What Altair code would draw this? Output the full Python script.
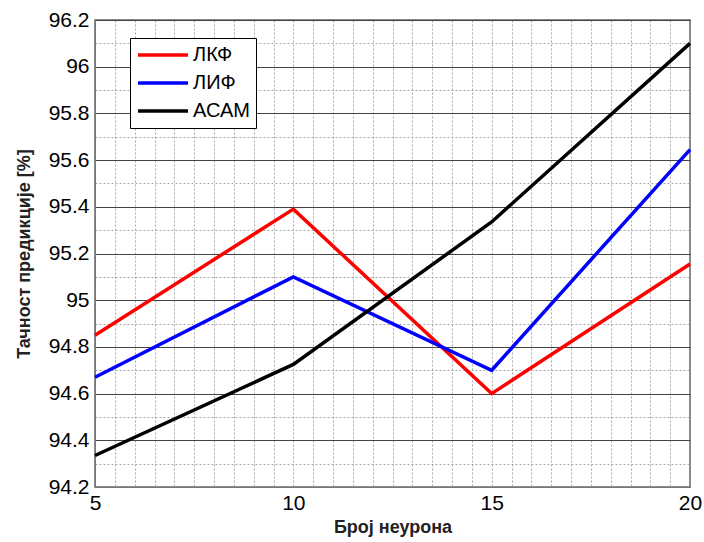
import altair as alt
import pandas as pd

neurons = [5, 10, 15, 20]
lkf = [94.85, 95.39, 94.60, 95.155]
lif = [94.67, 95.10, 94.70, 95.645]
asam = [94.335, 94.725, 95.335, 96.10]
series_names = ["ЛКФ", "ЛИФ", "АСАМ"]
series_colors = ["#ff0000", "#0000ff", "#000000"]

x_ticks = [5, 10, 15, 20]
y_ticks = [94.2, 94.4, 94.6, 94.8, 95.0, 95.2, 95.4, 95.6, 95.8, 96.0, 96.2]
x_minor = [5 + 0.5 * i for i in range(1, 30)]
y_minor = [round(94.2 + 0.1 * i, 1) for i in range(1, 20)]

rows = []
for name, vals in zip(series_names, [lkf, lif, asam]):
    for n, v in zip(neurons, vals):
        rows.append({"n": n, "acc": v, "series": name})
df = pd.DataFrame(rows)

FONT = "Liberation Sans"
xscale = alt.Scale(domain=[5, 20], nice=False, zero=False)
yscale = alt.Scale(domain=[94.2, 96.2], nice=False, zero=False)

minor = alt.Chart(df).mark_line(opacity=0).encode(
    x=alt.X("n:Q", scale=xscale, axis=alt.Axis(
        orient="bottom", values=x_minor, grid=True, gridColor="#a8a8a8",
        gridDash=[2, 2], gridWidth=1, labels=False, ticks=False, domain=False, title=None)),
    y=alt.Y("acc:Q", scale=yscale, axis=alt.Axis(
        orient="left", values=y_minor, grid=True, gridColor="#a8a8a8",
        gridDash=[2, 2], gridWidth=1, labels=False, ticks=False, domain=False, title=None)),
    detail="series:N",
)

lines = alt.Chart(df).mark_line(strokeWidth=3.5).encode(
    x=alt.X("n:Q", scale=xscale, axis=alt.Axis(
        orient="bottom", values=x_ticks, grid=False, format="d", ticks=False,
        labelFlush=False, domainColor="#777777", labelFontSize=21, labelFont=FONT,
        labelColor="#000", labelPadding=5, title="Број неурона", titleFont=FONT,
        titleFontSize=18, titleFontWeight="bold", titleColor="#222", titlePadding=5)),
    y=alt.Y("acc:Q", scale=yscale, axis=alt.Axis(
        orient="left", values=y_ticks, grid=True, gridColor="#444444", gridWidth=1,
        format=".4~g", ticks=False, labelFlush=False, domainColor="#777777",
        labelFontSize=21, labelFont=FONT, labelColor="#000", labelPadding=6,
        title="Тачност предикције [%]", titleFont=FONT, titleFontSize=18,
        titleFontWeight="bold", titleColor="#222", titlePadding=15)),
    color=alt.Color("series:N", sort=series_names,
                    scale=alt.Scale(domain=series_names, range=series_colors),
                    legend=alt.Legend(
                        title=None, orient="none", legendX=35, legendY=18,
                        fillColor="white", strokeColor="#000", padding=6,
                        symbolType="stroke", symbolSize=2500, symbolStrokeWidth=3.5,
                        clipHeight=22, labelFont=FONT, labelFontSize=20,
                        labelColor="#000", labelOffset=3, rowPadding=6)),
)

chart = alt.layer(minor, lines).resolve_axis(x="independent", y="independent").properties(
    width=595, height=467,
    autosize=alt.AutoSizeParams(type="none"),
    padding={"left": 95, "top": 20, "right": 14, "bottom": 55},
    background="white",
).configure_view(stroke="#666666", strokeWidth=1.5)

chart.save("out.html", embed_options={"renderer": "svg", "actions": False})
